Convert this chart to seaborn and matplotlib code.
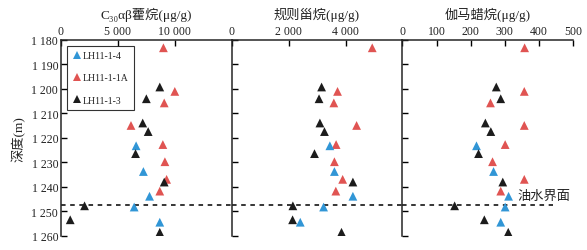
import matplotlib
matplotlib.use('Agg')
import matplotlib.pyplot as plt
import pandas as pd
import seaborn as sns

sns.set_style('ticks')
plt.rcParams['font.family'] = ['Liberation Serif', 'DejaVu Serif', 'Noto Sans CJK SC']

# ── 데이터 ───────────────────────────────────────────────
WELLS = ['LH11-1-4', 'LH11-1-1A', 'LH11-1-3']
COLORS = {'LH11-1-4': '#3196d6', 'LH11-1-1A': '#e05452', 'LH11-1-3': '#1c1c1c'}

# LH11-1-1A
depth_1a = [1183.3, 1201.1, 1205.8, 1215.0, 1222.8, 1229.8, 1237.0, 1241.8]
hop_1a   = [9000, 10000, 9070, 6150, 8950, 9130, 9280, 8680]
ster_1a  = [4940, 3720, 3590, 4390, 3670, 3610, 3900, 3660]
gam_1a   = [358, 357, 258, 357, 301, 264, 357, 288]

# LH11-1-4
depth_14 = [1223.3, 1233.8, 1243.9, 1248.3, 1254.5]
hop_14   = [6600, 7240, 7780, 6430, 8680]
ster_14  = [3450, 3610, 4260, 3230, 2410]
gam_14   = [217, 267, 311, 301, 288]

# LH11-1-3
depth_13 = [1199.3, 1204.1, 1214.0, 1217.5, 1226.5, 1238.1, 1247.8, 1253.5, 1258.6]
hop_13   = [8680, 7500, 7180, 7660, 6550, 9070, 2070, 810, 8680]
ster_13  = [3160, 3070, 3100, 3260, 2910, 4260, 2150, 2140, 3860]
gam_13   = [275, 288, 243, 259, 223, 294, 153, 240, 310]

OWC_DEPTH = 1247.3

frames = []
for well, d, h, s, g in [('LH11-1-1A', depth_1a, hop_1a, ster_1a, gam_1a),
                         ('LH11-1-4', depth_14, hop_14, ster_14, gam_14),
                         ('LH11-1-3', depth_13, hop_13, ster_13, gam_13)]:
    frames.append(pd.DataFrame({'well': well, 'depth': d, 'hop': h, 'ster': s, 'gam': g}))
df = pd.concat(frames, ignore_index=True)

panels = [
    ('hop',  'C\u2083\u2080\u03b1\u03b2藿烷(μg/g)', (0, 15000), [0, 5000, 10000], ['0', '5 000', '10 000']),
    ('ster', '规则甾烷(μg/g)', (0, 6000), [0, 2000, 4000], ['0', '2 000', '4 000']),
    ('gam',  '伽马蜡烷(μg/g)', (0, 500), [0, 100, 200, 300, 400, 500],
     ['0', '100', '200', '300', '400', '500']),
]

fig = plt.figure(figsize=(5.87, 2.51), dpi=100)
left, width = 61 / 587, 170.7 / 587
bottom, height = 14.3 / 251, 196 / 251
txt = '#222222'

axes = []
for i, (col, label, xlim, ticks, ticklabels) in enumerate(panels):
    ax = fig.add_axes([left + i * width, bottom, width, height])
    sns.scatterplot(data=df, x=col, y='depth', hue='well', hue_order=WELLS,
                    palette=COLORS, marker='^', s=40, linewidth=0,
                    legend=(i == 0), ax=ax, zorder=3)
    ax.set_xlim(*xlim)
    ax.set_ylim(1260, 1180)
    ax.xaxis.tick_top()
    ax.xaxis.set_label_position('top')
    ax.set_xticks(ticks)
    ax.set_xticklabels(ticklabels)
    ax.set_xlabel(label, fontsize=9.5, color=txt, labelpad=5)
    ax.set_yticks(range(1180, 1261, 10))
    ax.tick_params(direction='in', length=4, width=1, labelsize=8.5,
                   colors='black', labelcolor=txt, pad=2)
    if i == 0:
        ax.set_yticklabels([f'1 {v - 1000:03d}' for v in range(1180, 1261, 10)])
        ax.set_ylabel('深度(m)', fontsize=9.5, color=txt, labelpad=4)
    else:
        ax.set_yticklabels([])
        ax.set_ylabel('')
    for side in ['right', 'bottom']:
        ax.spines[side].set_visible(False)
    for side in ['top', 'left']:
        ax.spines[side].set_linewidth(1.1)
    axes.append(ax)

# 油水界面
for ax in axes[:2]:
    ax.axhline(OWC_DEPTH, color='black', lw=1.1, ls=(0, (3, 3)), zorder=2)
axes[2].plot([0, 442], [OWC_DEPTH, OWC_DEPTH], color='black', lw=1.1,
             ls=(0, (3, 3)), zorder=2)
axes[2].text(336, 1243.6, '油水界面', fontsize=9.5, color=txt, va='center', ha='left')

sns.move_legend(axes[0], 'upper left', bbox_to_anchor=(0.035, 0.968), title=None,
                frameon=True, fancybox=False, fontsize=7, labelspacing=1.35,
                handletextpad=0.1, borderpad=0.55, borderaxespad=0,
                handlelength=1.0, markerscale=1.0)
leg = axes[0].get_legend()
leg.get_frame().set_edgecolor('black')
leg.get_frame().set_linewidth(0.8)
for t in leg.get_texts():
    t.set_color(txt)

fig.savefig('out.png', dpi=100)
